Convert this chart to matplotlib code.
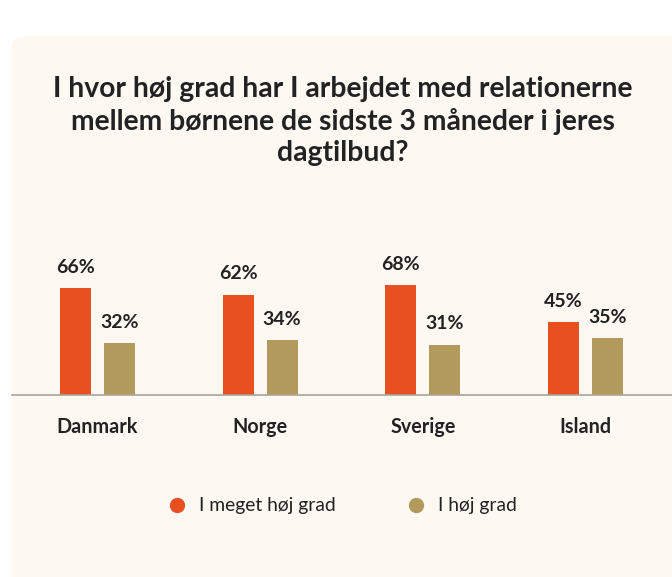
import matplotlib.pyplot as plt
import numpy as np
from matplotlib.lines import Line2D
from matplotlib.patches import FancyBboxPatch

titel = "I hvor høj grad har I arbejdet med relationerne\nmellem børnene de sidste 3 måneder i jeres\ndagtilbud?"
lande = ["Danmark", "Norge", "Sverige", "Island"]
meget_hoej = [66, 62, 68, 45]
hoej = [32, 34, 31, 35]
serie_navne = ["I meget høj grad", "I høj grad"]

orange = "#E8511F"
tan = "#B29A5C"
tekst = "#222222"
panel = "#FDF8F1"

plt.rcParams['font.family'] = ['Lato', 'DejaVu Sans']

W, H = 672, 577
fig = plt.figure(figsize=(W / 100, H / 100), dpi=100)
fig.patch.set_facecolor("white")

# baggrundspanel med runde hjørner
bg = FancyBboxPatch((12 / W, (H - 600) / H), 680 / W, 564 / H,
                    boxstyle="round,pad=0,rounding_size=0.02",
                    transform=fig.transFigure, facecolor=panel,
                    edgecolor="none", zorder=-5)
fig.patches.append(bg)

ax = fig.add_axes([12 / W, 182 / H, 660 / W, 195 / H])
ax.set_facecolor("none")
ax.set_zorder(2)

x = np.arange(len(lande))
bredde = 0.19
forskyd = 0.135
b1 = ax.bar(x - forskyd, meget_hoej, bredde, color=orange, zorder=2)
b2 = ax.bar(x + forskyd, hoej, bredde, color=tan, zorder=2)

for bars in (b1, b2):
    for r in bars:
        ax.annotate(f"{int(r.get_height())}%",
                    (r.get_x() + r.get_width() / 2, r.get_height()),
                    xytext=(0, 15), textcoords="offset points",
                    ha="center", va="center", fontsize=14,
                    fontweight="bold", color=tekst)

ax.set_xlim(-0.526, 3.532)
ax.set_ylim(0, 120.4)
for s in ["top", "right", "left"]:
    ax.spines[s].set_visible(False)
ax.spines["bottom"].set_color("#A8A49A")
ax.spines["bottom"].set_linewidth(1.2)
ax.set_yticks([])
ax.set_xticks(x)
ax.set_xticklabels(lande, fontsize=14.2, fontweight="bold", color=tekst)
ax.tick_params(axis="x", length=0, pad=16)

fig.text(343 / W, 1 - 121 / H, titel, ha="center", va="center",
         fontsize=20.3, fontweight="bold", color=tekst, linespacing=1.25)

handles = [Line2D([], [], marker="o", linestyle="none", markersize=11,
                  markerfacecolor=c, markeredgecolor="none")
           for c in (orange, tan)]
fig.legend(handles, serie_navne, loc="center", bbox_to_anchor=(337 / W, 1 - 506 / H),
           ncol=2, frameon=False, fontsize=13.9, handletextpad=0.15,
           columnspacing=3.15, labelcolor=tekst)

fig.savefig("out.png", dpi=100, facecolor=fig.get_facecolor())
